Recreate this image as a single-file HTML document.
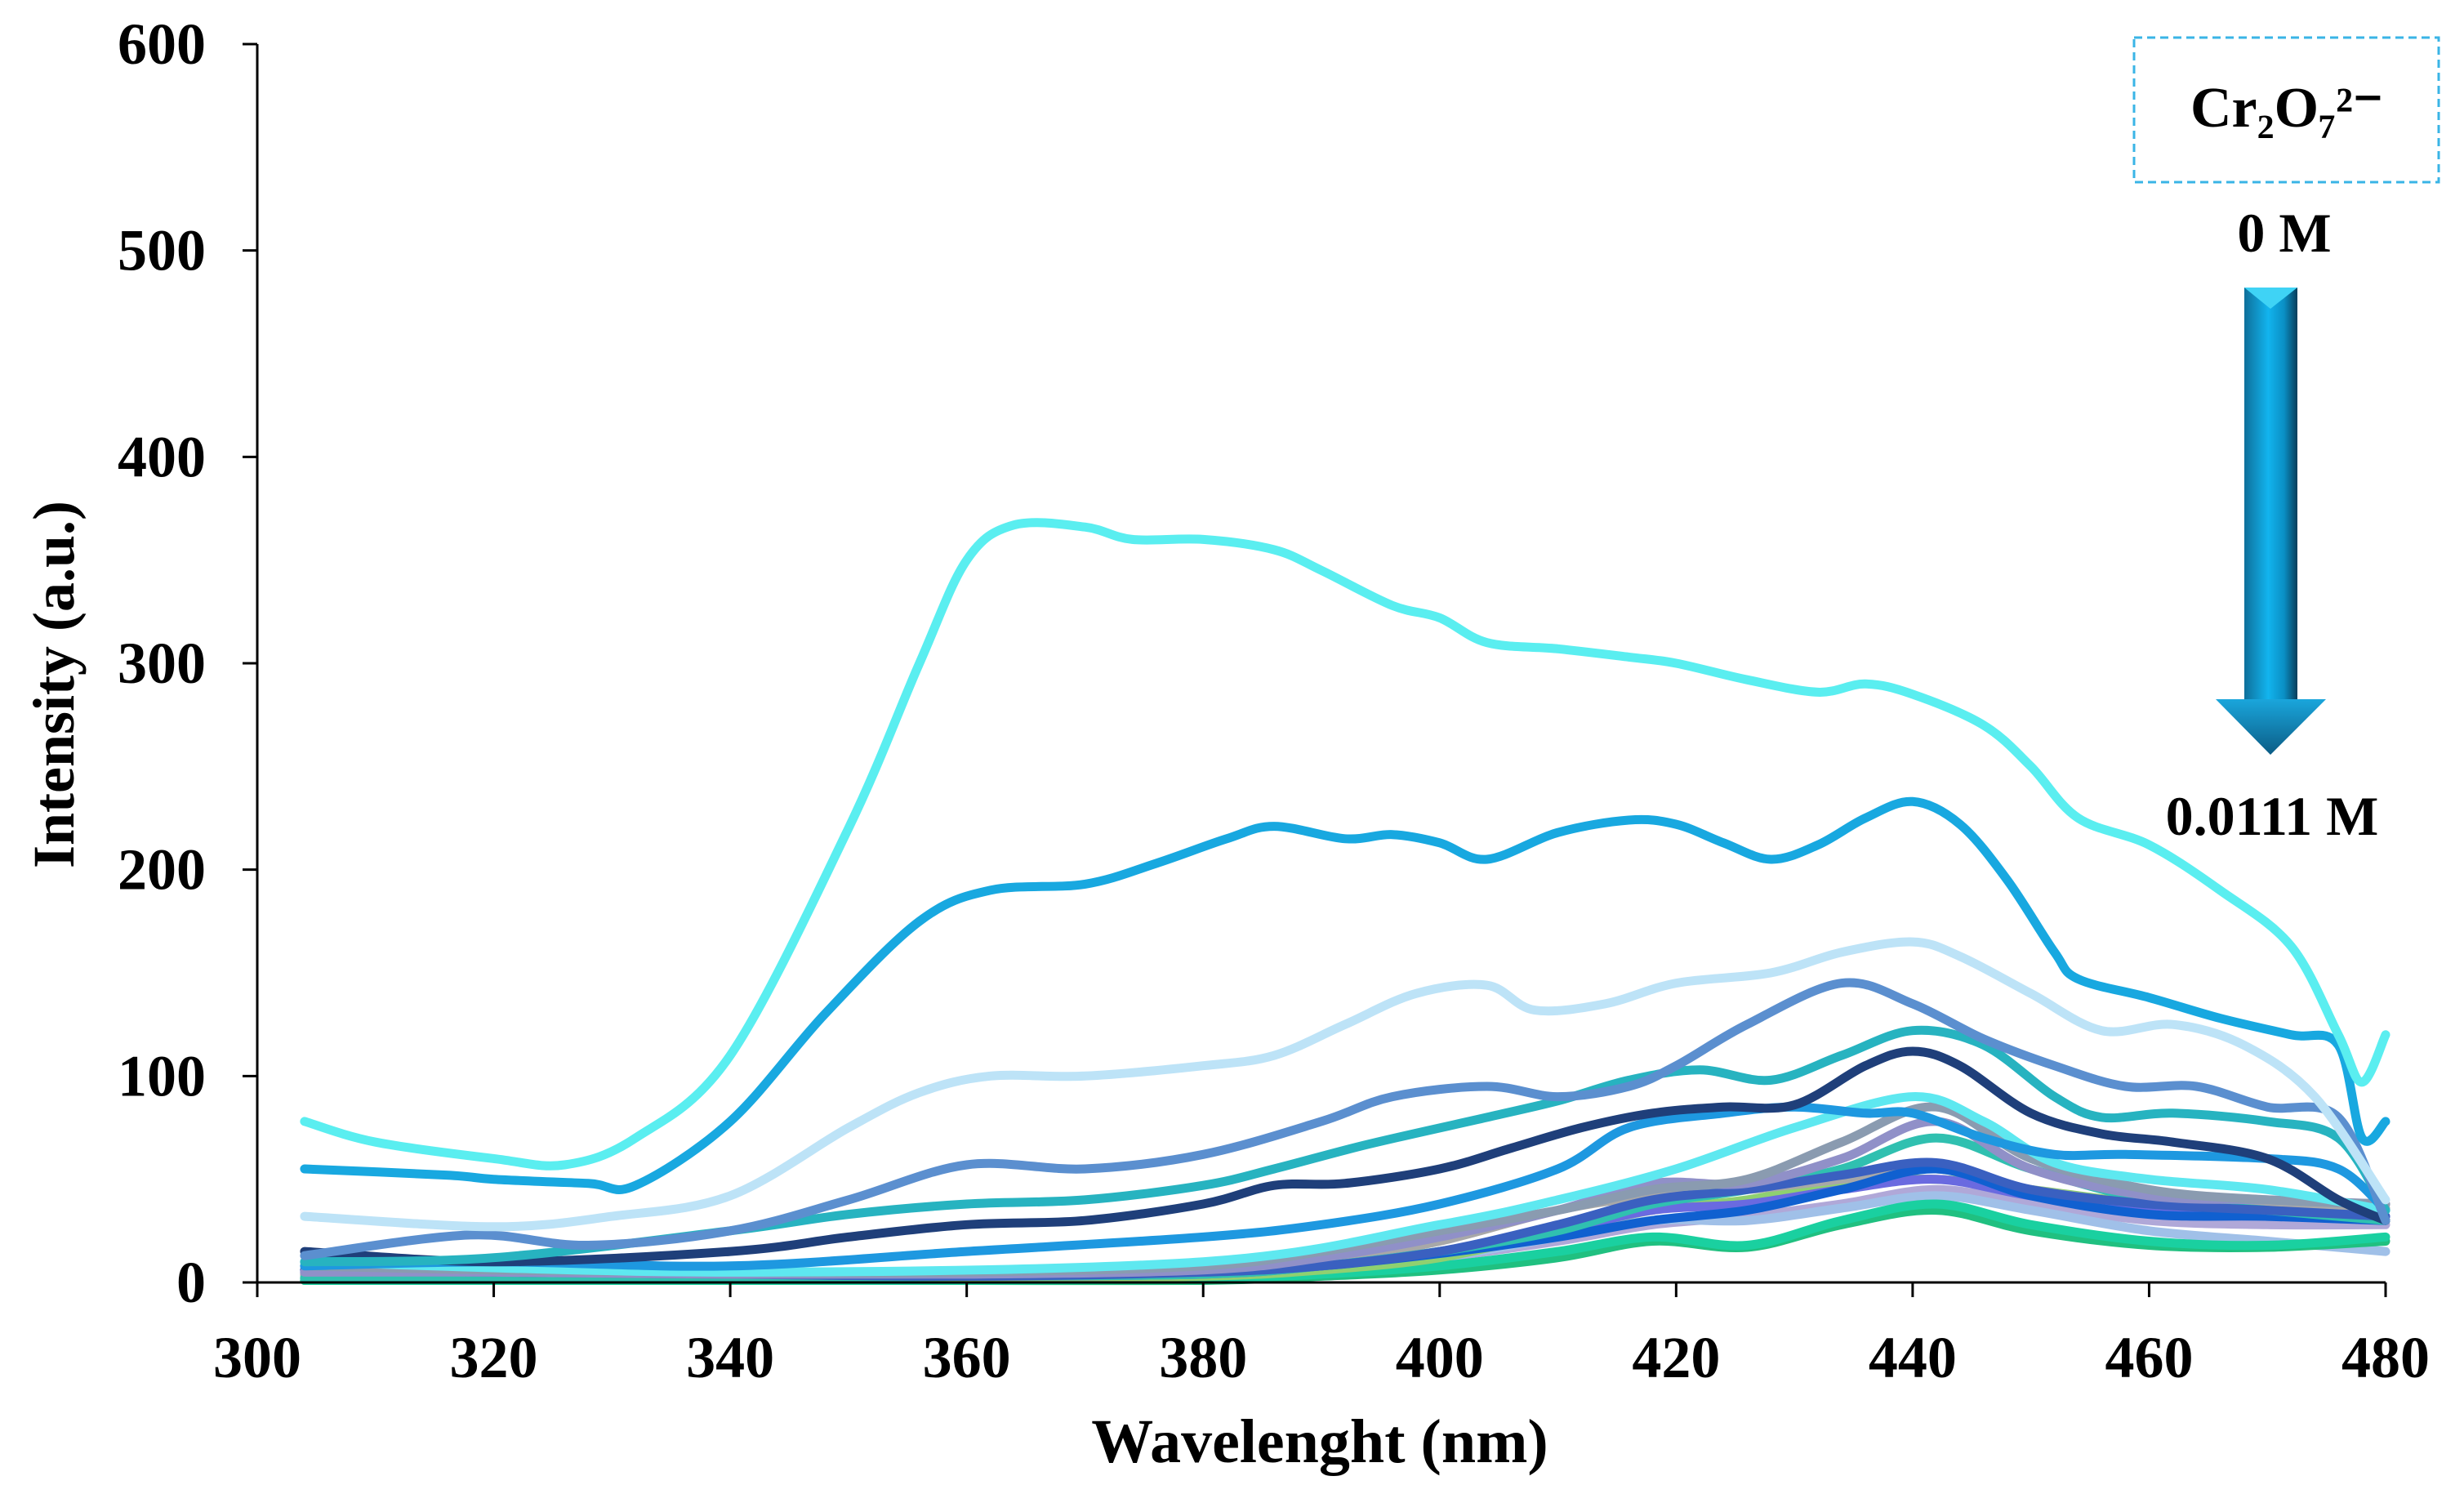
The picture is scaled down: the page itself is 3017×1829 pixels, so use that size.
<!DOCTYPE html>
<html><head><meta charset="utf-8"><style>
html,body{margin:0;padding:0;background:#fff;}
svg{display:block;}
text{font-family:"Liberation Serif",serif;font-weight:bold;fill:#000;}
</style></head><body>
<svg id="chart" width="3017" height="1829" viewBox="0 0 3017 1829" xmlns="http://www.w3.org/2000/svg">
<defs>
<linearGradient id="shaft" x1="0" x2="1" y1="0" y2="0">
<stop offset="0" stop-color="#0e6f9a"/><stop offset="0.45" stop-color="#12b4ee"/><stop offset="0.75" stop-color="#0a8fc4"/><stop offset="1" stop-color="#073d5a"/>
</linearGradient>
<linearGradient id="head" x1="0" x2="0" y1="0" y2="1">
<stop offset="0" stop-color="#1aa6dc"/><stop offset="1" stop-color="#0b5c85"/>
</linearGradient>
</defs>
<g id="series"></g>
<g id="axes"></g>
<g>
<rect x="2613" y="46" width="373" height="177" fill="none" stroke="#3ab4e6" stroke-width="3" stroke-dasharray="10,6"/>
<text x="2800" y="155" font-size="70" text-anchor="middle">Cr₂O₇²⁻</text>
<text x="2797" y="308" font-size="68" text-anchor="middle">0 M</text>
<rect x="2748" y="352" width="65" height="510" fill="url(#shaft)"/>
<polygon points="2748,352 2813,352 2780,378" fill="#3fd3f5"/>
<polygon points="2713,856 2848,856 2780,924" fill="url(#head)"/>
<text x="2782" y="1022" font-size="68" text-anchor="middle">0.0111 M</text>
</g>
</svg>
<script>
const xTicks=[300,320,340,360,380,400,420,440,460,480];
const yTicks=[0,100,200,300,400,500,600];
const w1=[304,310,320,326,332,340,350,356,360,364,370,374,380,386,390,396,400,404,410,416,420,426,432,436,440,446,450,454,460,466,472,476,478,480];
const s1=[78,68,60,57,70,110,220,300,350,367,366,360,360,355,345,328,322,310,307,303,300,292,286,290,285,270,250,225,212,190,163,120,97,120];
const w2=[304,316,320,328,332,340,348,356,362,370,376,382,386,392,396,400,404,410,416,420,424,428,432,436,440,444,448,452,454,460,466,472,476,478,480];
const s2=[55,52,50,48,47,78,130,175,190,193,203,215,221,215,217,213,205,218,224,222,213,205,212,225,233,222,195,160,147,138,128,120,115,70,78];
const w3=[304,320,330,340,350,356,362,370,380,386,392,398,404,408,414,420,428,434,440,444,450,456,462,468,474,480];
const s3=[32,27,32,42,75,92,100,100,105,110,125,140,144,132,135,145,150,160,165,158,140,122,125,115,90,40];
const w4=[304,318,328,340,350,360,370,380,390,396,404,410,416,420,426,434,440,446,452,458,464,470,476,480];
const s4=[13,23,18,25,40,57,55,62,78,90,95,90,95,105,125,145,135,118,105,95,95,85,80,30];
const w5=[304,320,340,350,360,370,380,386,394,404,410,416,422,428,434,440,446,452,456,462,470,476,480];
const s5=[10,12,25,33,38,40,47,55,67,80,88,98,103,98,110,122,115,90,80,82,78,70,35];
const w6=[304,320,340,350,360,370,380,386,392,400,406,412,418,424,430,436,440,444,450,456,462,470,476,480];
const s6=[15,10,15,22,28,30,38,47,48,55,65,75,82,85,86,105,112,105,82,72,68,60,40,30];
const w7=[304,320,340,360,380,390,400,410,416,424,430,436,440,446,452,458,470,476,480];
const s7=[8,10,8,15,22,28,38,55,75,82,85,82,82,70,62,62,60,55,35];
const w8=[304,340,380,400,410,420,430,440,446,452,460,470,480];
const s8=[10,5,10,28,40,55,75,90,78,58,50,45,35];
const wLow=[304,320,340,360,380,390,400,410,418,426,434,442,450,460,470,480];
const s9=[8,6,5,5,8,15,25,35,45,50,68,85,60,45,40,38];
const s10=[5,5,4,4,6,12,22,35,48,48,60,78,55,42,40,38];
const s11=[6,5,4,3,5,8,15,28,40,45,52,58,45,38,35,32];
const s12=[2,2,2,3,4,8,15,25,38,45,55,70,55,40,35,30];
const s13=[4,4,3,3,5,10,20,35,42,45,50,55,45,38,38,36];
const s14=[2,2,2,2,3,6,12,25,35,40,48,50,45,38,35,30];
const s15=[1,1,1,1,2,4,8,15,22,18,30,38,28,20,18,22];
const s16=[1,1,1,1,1,3,6,12,20,17,28,35,25,18,17,20];
const s17=[3,3,2,2,3,6,12,22,30,30,36,42,35,25,20,15];
const s18=[5,4,3,3,4,8,15,25,35,38,45,50,42,35,33,32];
const s19=[6,5,4,4,5,8,14,22,30,35,45,55,42,33,32,30];
const s20=[3,3,2,2,3,6,12,20,28,32,38,45,38,30,28,28];

const X0=315,X1=2921,Y0=1570,Y1=54;
function xs(v){return X0+(v-300)*(X1-X0)/180;}
function ys(v){return Y0-v*(Y0-Y1)/600;}
const NS="http://www.w3.org/2000/svg";
function mk(tag,attrs,parent){const e=document.createElementNS(NS,tag);for(const k in attrs)e.setAttribute(k,attrs[k]);parent.appendChild(e);return e;}
function pathD(wx,vals){
  const p=wx.map((w,i)=>[xs(w),ys(vals[i])]);
  let d="M"+p[0][0].toFixed(1)+","+p[0][1].toFixed(1);
  for(let i=0;i<p.length-1;i++){
    const a=p[Math.max(0,i-1)],b=p[i],c=p[i+1],e=p[Math.min(p.length-1,i+2)];
    const c1=[b[0]+(c[0]-a[0])/6,b[1]+(c[1]-a[1])/6],c2=[c[0]-(e[0]-b[0])/6,c[1]-(e[1]-b[1])/6];
    d+="C"+c1.map(v=>v.toFixed(1)).join(",")+" "+c2.map(v=>v.toFixed(1)).join(",")+" "+c[0].toFixed(1)+","+c[1].toFixed(1);
  }
  return d;
}
const g=document.getElementById("series");
const list=[
 [wLow,s20,"#b0a8d8"],[wLow,s17,"#a0c0e8"],[wLow,s16,"#20c080"],[wLow,s15,"#1ad0a0"],[wLow,s14,"#8fd070"],[wLow,s13,"#a8a8a8"],
 [wLow,s18,"#6a6ae0"],[wLow,s19,"#1060d0"],[wLow,s12,"#30c0b0"],[wLow,s11,"#3a60c0"],[wLow,s10,"#9090c8"],[wLow,s9,"#8a9bb0"],
 [w8,s8,"#5ee8f0"],[w7,s7,"#1e98e0"],[w6,s6,"#1f3f7a"],[w5,s5,"#27b3c0"],[w4,s4,"#5b8fcf"],[w3,s3,"#bde3f7"],[w2,s2,"#18a8e0"],[w1,s1,"#5aeef0"]
];
list.forEach((s,i)=>{
  const p=mk("path",{d:pathD(s[0],s[1]),fill:"none",stroke:s[2],"stroke-width":11,"stroke-linejoin":"round","stroke-linecap":"round"},g);
  
  
});
const ax=document.getElementById("axes");
const yl=mk("line",{x1:X0,y1:Y1,x2:X0,y2:Y0,stroke:"#000","stroke-width":3},ax);


const xl=mk("line",{x1:X0,y1:Y0,x2:X1,y2:Y0,stroke:"#000","stroke-width":3},ax);


yTicks.forEach(v=>{
  const t=mk("line",{x1:X0-18,y1:ys(v),x2:X0,y2:ys(v),stroke:"#000","stroke-width":3},ax);
  
  
  const l=mk("text",{x:252,y:ys(v)+24,"font-size":72,"text-anchor":"end"},ax);
  l.textContent=v;
  
  
});
xTicks.forEach(v=>{
  const t=mk("line",{x1:xs(v),y1:Y0,x2:xs(v),y2:Y0+18,stroke:"#000","stroke-width":3},ax);
  
  
  const l=mk("text",{x:xs(v),y:1686,"font-size":72,"text-anchor":"middle"},ax);
  l.textContent=v;
  
  
});
const xt=mk("text",{x:1616,y:1790,"font-size":76,"text-anchor":"middle"},ax);
xt.textContent="Wavelenght (nm)";


const yt=mk("text",{x:0,y:0,"font-size":72,"text-anchor":"middle",transform:"translate(90,838) rotate(-90)"},ax);
yt.textContent="Intensity (a.u.)";


</script>
</body></html>
